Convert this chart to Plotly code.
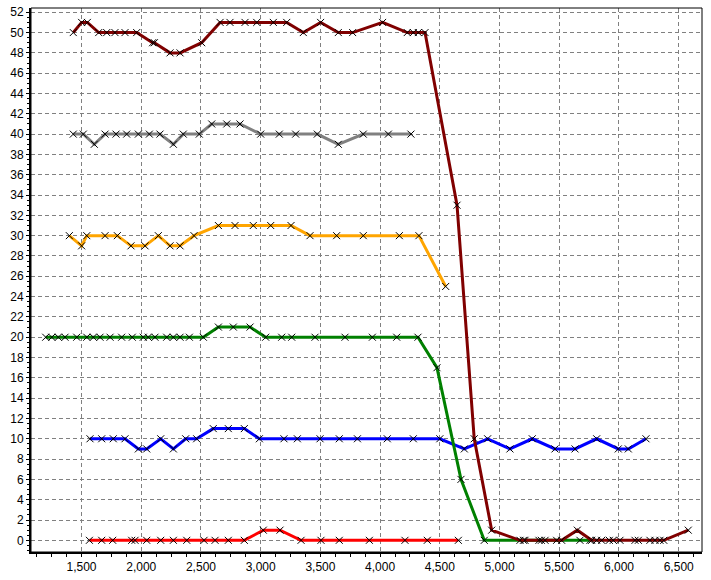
import plotly.graph_objects as go

# ---- data ----
darkred_x = [1431, 1501, 1549, 1644, 1711, 1780, 1864, 1962, 2095, 2110, 2241, 2325, 2506,
             2660, 2743, 2869, 2967, 3106, 3218, 3357, 3502, 3650, 3770, 4021, 4227, 4278,
             4320, 4376, 4644, 4788, 4934, 5171, 5213, 5330, 5350, 5381, 5478, 5520, 5651,
             5771, 5813, 5855, 5919, 5952, 6008, 6134, 6162, 6259, 6301, 6343, 6375, 6580]
darkred_y = [50, 51, 51, 50, 50, 50, 50, 50, 49, 49, 48, 48, 49,
             51, 51, 51, 51, 51, 51, 50, 51, 50, 50, 51, 50, 50,
             50, 50, 33, 10, 1, 0, 0, 0, 0, 0, 0, 0, 1,
             0, 0, 0, 0, 0, 0, 0, 0, 0, 0, 0, 0, 1]

gray_x = [1431, 1515, 1607, 1697, 1789, 1878, 1976, 2068, 2157, 2269, 2352, 2486, 2590,
          2716, 2827, 3000, 3156, 3293, 3474, 3650, 3859, 4069, 4258]
gray_y = [40, 40, 39, 40, 40, 40, 40, 40, 40, 39, 40, 40, 41,
          41, 41, 40, 40, 40, 40, 39, 40, 40, 40]

orange_x = [1398, 1501, 1544, 1697, 1800, 1914, 2032, 2143, 2241, 2325, 2442, 2646,
            2785, 2938, 3084, 3254, 3413, 3636, 3859, 4161, 4325, 4549]
orange_y = [30, 29, 30, 30, 30, 29, 29, 30, 29, 29, 30, 31,
            31, 31, 31, 31, 30, 30, 30, 30, 30, 25]

green_x = [1200, 1251, 1306, 1362, 1460, 1544, 1599, 1655, 1739, 1836, 1925, 2017, 2059,
           2115, 2213, 2269, 2325, 2403, 2520, 2646, 2771, 2911, 3042, 3176, 3260, 3455,
           3706, 3935, 4139, 4317, 4476, 4677, 4872, 5200, 5673, 5757]
green_y = [20, 20, 20, 20, 20, 20, 20, 20, 20, 20, 20, 20, 20,
           20, 20, 20, 20, 20, 20, 21, 21, 21, 20, 20, 20, 20,
           20, 20, 20, 20, 17, 6, 0, 0, 0, 0]

blue_x = [1571, 1669, 1766, 1864, 1976, 2046, 2163, 2269, 2372, 2464, 2603, 2729, 2863,
          2989, 3195, 3307, 3497, 3658, 3810, 4060, 4278, 4500, 4705, 4900, 5087, 5274,
          5464, 5632, 5813, 5994, 6078, 6226]
blue_y = [10, 10, 10, 10, 9, 9, 10, 9, 10, 10, 11, 11, 11,
          10, 10, 10, 10, 10, 10, 10, 10, 10, 9, 10, 9, 10,
          9, 9, 10, 9, 9, 10]

red_x = [1566, 1669, 1761, 1920, 1948, 2046, 2163, 2269, 2381, 2526, 2618, 2729, 2863,
         3022, 3162, 3338, 3505, 3658, 3910, 4208, 4395, 4655]
red_y = [0, 0, 0, 0, 0, 0, 0, 0, 0, 0, 0, 0, 0,
         1, 1, 0, 0, 0, 0, 0, 0, 0]

series = [
    ("Red", red_x, red_y, "#FF0000"),
    ("Blue", blue_x, blue_y, "#0000FF"),
    ("Green", green_x, green_y, "#008000"),
    ("Orange", orange_x, orange_y, "#FFA500"),
    ("Gray", gray_x, gray_y, "#808080"),
    ("Dark red", darkred_x, darkred_y, "#800000"),
]

fig = go.Figure()
for name, xs, ys, col in series:
    fig.add_trace(go.Scatter(
        x=xs, y=ys, name=name, mode="lines+markers",
        line=dict(color=col, width=3),
        marker=dict(symbol="x-thin", size=7, color="black",
                    line=dict(color="black", width=1)),
    ))

tick_font = dict(family="Liberation Sans, Arial, sans-serif", size=12, color="black")

fig.update_layout(
    width=711, height=580,
    margin=dict(l=31, r=9, t=8, b=28, autoexpand=False),
    paper_bgcolor="white", plot_bgcolor="white",
    showlegend=False,
    xaxis=dict(
        range=[1077, 6695], dtick=500, tick0=0, tickformat=",d", automargin=False,
        showgrid=True, gridcolor="#808080", gridwidth=1, griddash="4px,3px",
        zeroline=False, showline=True, linecolor="black", linewidth=2,
        ticks="outside", ticklen=3, tickcolor="black", tickfont=tick_font,
        minor=dict(dtick=125, ticks="outside", ticklen=3, tickcolor="black", showgrid=False),
    ),
    yaxis=dict(
        range=[-1.15, 52.42], dtick=2, tick0=0, automargin=False,
        showgrid=True, gridcolor="#808080", gridwidth=1, griddash="4px,3px",
        zeroline=False, showline=True, linecolor="black", linewidth=2,
        ticks="outside", ticklen=3, tickcolor="black", tickfont=tick_font,
        minor=dict(dtick=0.5, ticks="outside", ticklen=2, tickcolor="black", showgrid=False),
    ),
    shapes=[dict(type="rect", xref="paper", yref="paper", x0=0, x1=1, y0=0, y1=1,
                 line=dict(color="black", width=1), layer="above")],
)

# remove the browser's default 8px page margin so the figure fills the window
fig.write_html("out.html", config={"displayModeBar": False},
               post_script="document.body.style.margin='0';")
